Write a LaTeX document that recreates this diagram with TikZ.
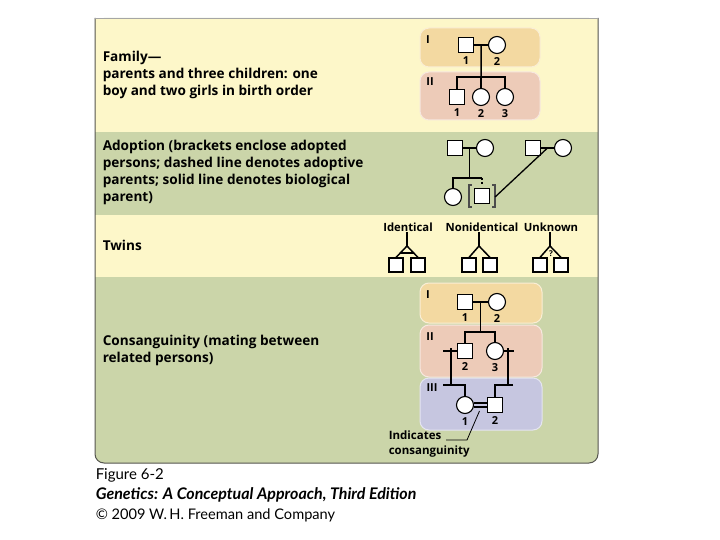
\documentclass[tikz,border=0pt]{standalone}
\usepackage{fontspec}
\setmainfont{Lato}
\newfontfamily\labelfont{Open Sans}[Ligatures=TeX]
\usetikzlibrary{positioning, calc}

\definecolor{bandyellow}{HTML}{FDF7C9}
\definecolor{bandgreen}{HTML}{CBD5A9}
\definecolor{genone}{HTML}{F3D9A1}
\definecolor{gentwo}{HTML}{EDCBB8}
\definecolor{genthree}{HTML}{C6C6E0}
\definecolor{rimgray}{HTML}{55554F}

\begin{document}
\begin{tikzpicture}[
		x=1pt, y=-1pt, line width=1.5pt,
		male/.style={draw, fill=white, minimum size=15pt, inner sep=0pt, line width=1.1pt},
		female/.style={draw, circle, fill=white, minimum size=17pt, inner sep=0pt, line width=1.1pt},
		twin/.style={male, minimum size=14pt},
		num/.style={font=\labelfont\bfseries\fontsize{11}{12}\selectfont, inner sep=0pt},
		gennum/.style={font=\labelfont\bfseries\fontsize{11}{12}\selectfont, inner sep=0pt},
		genbox/.style={draw=white!55!#1, line width=1pt, fill=#1, rounded corners=9pt},
		sidetext/.style={anchor=west, align=left, inner sep=0pt, font=\labelfont\bfseries\fontsize{13.6}{17}\selectfont},
		twinlabel/.style={font=\labelfont\bfseries\fontsize{11.3}{12}\selectfont, inner sep=0pt},
		bracket/.style={line width=1.2pt, draw=black!70},
		caption/.style={anchor=west, inner sep=0pt, font=\fontsize{15}{16}\selectfont}
		]
		\useasboundingbox (0,0) rectangle (720,540);
		
		% ==========================================
		% 0. PANEL AND BANDS
		% ==========================================
		\fill[bandgreen, rounded corners=9pt] (95,18) rectangle (598,463);
		\fill[bandyellow] (95,18) rectangle (598,132);
		\fill[bandgreen] (95,132) rectangle (598,215);
		\fill[bandyellow] (95,215) rectangle (598,277);
		\draw[rimgray, line width=1pt, rounded corners=9pt] (95,18) -- (95,463) -- (598,463) -- (598,18);
		\draw[black!35, line width=0.6pt] (95,18) -- (598,18);
		
		\node[sidetext] (familytext) at (102,74.5) {Family---\\parents and three children: one\\boy and two girls in birth order};
		\node[sidetext] (adopttext) at (102,172.5) {Adoption (brackets enclose adopted\\persons; dashed line denotes adoptive\\parents; solid line denotes biological\\parent)};
		\node[sidetext] (twintext) at (102,245) {Twins};
		\node[sidetext] (constext) at (102,350.5) {Consanguinity (mating between\\related persons)};
		
		% ==========================================
		% 1. FAMILY
		% ==========================================
		\draw[genbox=genone] (420,28) rectangle (540,67);
		\draw[genbox=gentwo] (420,72) rectangle (540,120);
		\node[gennum] (famI) at (428,40) {I};
		\node[gennum] (famII) at (430,82) {II};
		
		\node[male] (f1) at (466,45) {};
		\node[female] (f2) at (497,45) {};
		\node[num, below=3pt of f1] {1};
		\node[num, below=3pt of f2] {2};
		\draw (f1) -- (f2);
		
		\node[male] (c1) at (457,97) {};
		\node[female] (c2) at (481,97) {};
		\node[female] (c3) at (505,97) {};
		\node[num, below=3pt of c1] {1};
		\node[num, below=3pt of c2] {2};
		\node[num, below=3pt of c3] {3};
		
		\coordinate (fmate) at ($(f1.east)!0.5!(f2.west)$);
		\coordinate (fsib) at (481,77);
		\draw (fmate) -- (fsib);
		\draw (c1.north) |- (fsib) -| (c3.north);
		\draw (fsib) -- (c2.north);
		
		% ==========================================
		% 2. ADOPTION
		% ==========================================
		\node[male] (a1) at (455,148) {};
		\node[female] (a2) at (485,148) {};
		\node[male] (a3) at (533,148) {};
		\node[female] (a4) at (563,148) {};
		\draw (a1) -- (a2);
		\draw (a3) -- (a4);
		
		\node[female] (ac1) at (453,197) {};
		\node[male] (ac2) at (482,196) {};
		\draw[bracket] ([xshift=-2pt, yshift=3pt]ac2.north west) -- ++(-3,0) -- ([xshift=-5pt, yshift=-3pt]ac2.south west) -- ++(3,0);
		\draw[bracket] ([xshift=2pt, yshift=3pt]ac2.north east) -- ++(3,0) -- ([xshift=5pt, yshift=-3pt]ac2.south east) -- ++(-3,0);
		
		\coordinate (amate) at ($(a1.east)!0.5!(a2.west)$);
		\coordinate (asib) at ($(amate)+(0,30)$);
		\draw (amate) -- (asib);
		\draw (ac1.north) |- (asib) -- (asib -| ac2.north);
		\draw[dashed, dash pattern=on 2.5pt off 1.5pt] (asib -| ac2.north) -- ([yshift=3pt]ac2.north);
		
		\coordinate (bmate) at ($(a3.east)!0.5!(a4.west)$);
		\draw[line width=1.3pt] (bmate) -- ([xshift=5pt, yshift=-1pt]ac2.east);
		
		% ==========================================
		% 3. TWINS
		% ==========================================
		\node[twinlabel] (identlabel) at (408,227) {Identical};
		\node[twinlabel] (nonidentlabel) at (482,227) {Nonidentical};
		\node[twinlabel] (unknownlabel) at (551,227) {Unknown};
		
		\coordinate (identapex) at (407,246);
		\node[twin] (ident1) at (396,265) {};
		\node[twin] (ident2) at (418,265) {};
		\draw (identapex |- identlabel.south) -- (identapex);
		\draw (ident1.north) -- (identapex) -- (ident2.north);
		\draw ($(identapex)!0.6!(ident1.north)$) -- ($(identapex)!0.6!(ident2.north)$);
		
		\coordinate (nonidentapex) at (479,246);
		\node[twin] (nonident1) at (469,265) {};
		\node[twin] (nonident2) at (490,265) {};
		\draw (nonidentapex |- nonidentlabel.south) -- (nonidentapex);
		\draw (nonident1.north) -- (nonidentapex) -- (nonident2.north);
		
		\coordinate (unknownapex) at (550,246);
		\node[twin] (unknown1) at (540,265) {};
		\node[twin] (unknown2) at (561,265) {};
		\draw (unknownapex |- unknownlabel.south) -- (unknownapex);
		\draw (unknown1.north) -- (unknownapex) -- (unknown2.north);
		\node[font=\labelfont\bfseries\fontsize{8}{8}\selectfont, inner sep=0pt] (unknownq) at (551,254) {?};
		
		% ==========================================
		% 4. CONSANGUINITY
		% ==========================================
		\draw[genbox=genone] (420,283) rectangle (542,323);
		\draw[genbox=gentwo] (420,325) rectangle (542,377);
		\draw[genbox=genthree] (420,378) rectangle (542,430);
		\node[gennum] (consI) at (428,295) {I};
		\node[gennum] (consII) at (430,337) {II};
		\node[gennum] (consIII) at (432,388) {III};
		
		\node[male] (k1) at (465,302) {};
		\node[female] (k2) at (497,302) {};
		\node[num, below=3pt of k1] {1};
		\node[num, below=3pt of k2] {2};
		\draw (k1) -- (k2);
		
		\node[male] (k3) at (465,351) {};
		\node[female] (k4) at (495,351) {};
		\node[num, below=3pt of k3] {2};
		\node[num, below=3pt of k4] {3};
		
		\coordinate (kmate) at ($(k1.east)!0.5!(k2.west)$);
		\coordinate (ksib) at ($(kmate)+(0,30)$);
		\draw (kmate) -- (ksib);
		\draw (k3.north) |- (ksib) -| (k4.north);
		
		% partners outside the pedigree
		\coordinate (k3mate) at (451,351);
		\coordinate (k4mate) at (508,351);
		\coordinate (k5sib) at (443,385);
		\coordinate (k6sib) at (513,385);
		\draw (k3.west) -- ++(-14,0);
		\draw (k4.east) -- ++(10,0);
		\draw ([yshift=3pt]k3mate) -- (k3mate |- k5sib);
		\draw ([yshift=3pt]k4mate) -- (k4mate |- k6sib);
		
		\node[female] (k5) at (465,405) {};
		\node[male] (k6) at (495,405) {};
		\node[num, below=3pt of k5] {1};
		\node[num, below=3pt of k6] {2};
		\draw (k5sib) -| (k5.north);
		\draw (k6sib) -| (k6.north);
		\draw[line width=1.2pt] ([yshift=2pt]k5.east) -- ([yshift=2pt]k6.west);
		\draw[line width=1.2pt] ([yshift=-2pt]k5.east) -- ([yshift=-2pt]k6.west);
		
		\node[anchor=west, align=left, inner sep=0pt, font=\labelfont\bfseries\fontsize{11.5}{15}\selectfont] (pointertext) at (388,444.5) {Indicates\\consanguinity};
		\coordinate (pointerbend) at (467,440);
		\coordinate (pointerend) at (446,440);
		\draw[line width=0.8pt] ($(k5.east)!0.5!(k6.west)+(-1,6)$) -- (pointerbend) -- (pointerend);
		
		% ==========================================
		% 5. CAPTION
		% ==========================================
		\node[caption] (figno) at (95,475) {Figure 6-2};
		\node[caption, font=\bfseries\itshape\fontsize{16}{16}\selectfont] (booktitle) at (95,494.5) {Genetics: A Conceptual Approach, Third Edition};
		\node[caption, font=\fontsize{14.6}{16}\selectfont] (copyright) at (95,515) {© 2009 W.\,H. Freeman and Company};
		
	\end{tikzpicture}
\end{document}
